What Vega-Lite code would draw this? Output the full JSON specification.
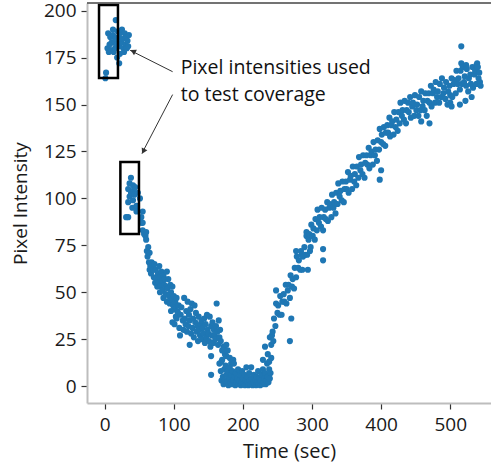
{
  "$schema": "https://vega.github.io/schema/vega-lite/v6.json",
  "width": 404,
  "height": 400,
  "autosize": "none",
  "padding": {"left": 87, "top": 3, "right": 0, "bottom": 62},
  "config": {
    "view": {"stroke": null},
    "font": "Open Sans",
    "axis": {
      "domainColor": "#bdbdbd",
      "domainWidth": 2,
      "tickColor": "#333333",
      "tickWidth": 1.2,
      "tickSize": 6,
      "labelFont": "Open Sans",
      "labelFontSize": 19,
      "labelColor": "#1a1a1a",
      "titleFont": "Open Sans",
      "titleFontWeight": "normal",
      "titleColor": "#1a1a1a",
      "grid": false
    }
  },
  "datasets": {
    "pts": [
      {"t":1,"v":164},{"t":2,"v":167},{"t":4,"v":180},{"t":5,"v":188},{"t":6,"v":178},{"t":7,"v":182},{"t":8,"v":186},{"t":9,"v":179},{"t":10,"v":183},{"t":12,"v":190},{"t":12,"v":187},{"t":13,"v":178},{"t":14,"v":183},{"t":15,"v":185},{"t":15,"v":180},{"t":16,"v":195},{"t":17,"v":182},{"t":18,"v":175},{"t":19,"v":189},{"t":20,"v":186},{"t":21,"v":181},{"t":21,"v":172},{"t":22,"v":188},{"t":22,"v":177},{"t":24,"v":183},{"t":25,"v":190},{"t":26,"v":185},{"t":27,"v":180},{"t":28,"v":178},{"t":29,"v":188},{"t":30,"v":182},{"t":31,"v":186},{"t":32,"v":180},{"t":33,"v":184},{"t":34,"v":181},{"t":35,"v":187},
      {"t":31,"v":90},{"t":34,"v":105},{"t":34,"v":98},{"t":34,"v":90},{"t":36,"v":108},{"t":36,"v":101},{"t":38,"v":111},{"t":38,"v":103},{"t":40,"v":95},{"t":41,"v":107},{"t":41,"v":104},{"t":41,"v":99},{"t":43,"v":102},{"t":44,"v":106},{"t":46,"v":96},{"t":46,"v":93},{"t":48,"v":103},{"t":51,"v":100},{"t":53,"v":90},{"t":53,"v":87},{"t":55,"v":93},{"t":55,"v":87},{"t":55,"v":83},{"t":57,"v":81},{"t":59,"v":80},{"t":60,"v":82},
      {"t":60,"v":78},{"t":61,"v":72},{"t":62,"v":69},{"t":63,"v":74},{"t":64,"v":66},{"t":65,"v":71},{"t":65,"v":62},{"t":66,"v":64},{"t":67,"v":60},{"t":68,"v":66},{"t":70,"v":62},{"t":71,"v":58},{"t":72,"v":65},{"t":73,"v":55},{"t":74,"v":62},{"t":75,"v":57},{"t":76,"v":53},{"t":77,"v":60},{"t":78,"v":55},{"t":79,"v":64},{"t":80,"v":58},{"t":80,"v":50},{"t":81,"v":53},{"t":82,"v":61},{"t":83,"v":56},{"t":84,"v":51},{"t":85,"v":59},{"t":85,"v":47},{"t":86,"v":54},{"t":87,"v":57},{"t":88,"v":49},{"t":89,"v":53},{"t":90,"v":61},{"t":90,"v":45},{"t":91,"v":52},{"t":92,"v":57},{"t":93,"v":48},{"t":94,"v":44},{"t":95,"v":54},{"t":96,"v":50},{"t":97,"v":46},{"t":98,"v":53},{"t":99,"v":43},{"t":100,"v":48},{"t":101,"v":41},{"t":102,"v":45},{"t":103,"v":37},{"t":104,"v":47},{"t":105,"v":40},
      {"t":96,"v":40},{"t":98,"v":34},{"t":101,"v":33},{"t":104,"v":36},{"t":106,"v":39},{"t":107,"v":43},{"t":108,"v":31},{"t":109,"v":27},{"t":110,"v":38},{"t":111,"v":42},{"t":113,"v":35},{"t":114,"v":30},{"t":115,"v":47},{"t":116,"v":36},{"t":117,"v":33},{"t":118,"v":40},{"t":119,"v":29},{"t":120,"v":45},{"t":121,"v":32},{"t":122,"v":38},{"t":123,"v":22},{"t":123,"v":35},{"t":124,"v":41},{"t":125,"v":28},{"t":126,"v":44},{"t":127,"v":31},{"t":128,"v":36},{"t":129,"v":26},{"t":130,"v":43},{"t":131,"v":34},{"t":132,"v":39},{"t":133,"v":29},{"t":134,"v":32},{"t":135,"v":24},{"t":136,"v":37},{"t":137,"v":30},{"t":138,"v":27},{"t":139,"v":33},{"t":140,"v":35},{"t":141,"v":25},{"t":142,"v":31},{"t":143,"v":28},{"t":144,"v":36},{"t":145,"v":23},{"t":146,"v":33},{"t":147,"v":26},{"t":148,"v":38},{"t":149,"v":30},{"t":150,"v":28},{"t":151,"v":24},{"t":152,"v":37},{"t":153,"v":21},{"t":154,"v":32},{"t":154,"v":16},{"t":154,"v":6},{"t":155,"v":27},{"t":156,"v":34},{"t":157,"v":23},{"t":158,"v":30},{"t":159,"v":27},{"t":160,"v":25},{"t":161,"v":32},{"t":162,"v":44},{"t":163,"v":29},{"t":164,"v":22},{"t":165,"v":35},{"t":166,"v":26},{"t":167,"v":30},{"t":168,"v":24},{"t":169,"v":13},{"t":170,"v":19},{"t":172,"v":21},{"t":174,"v":17},{"t":176,"v":22},{"t":176,"v":16},{"t":178,"v":19},{"t":181,"v":15},{"t":183,"v":12},{"t":186,"v":14},
      {"t":166,"v":12},{"t":168,"v":8},{"t":169,"v":3},{"t":170,"v":14},{"t":171,"v":5},{"t":172,"v":1},{"t":173,"v":9},{"t":174,"v":3},{"t":175,"v":11},{"t":176,"v":6},{"t":177,"v":2},{"t":178,"v":8},{"t":179,"v":0.5},{"t":180,"v":4},{"t":181,"v":10},{"t":182,"v":2},{"t":183,"v":6},{"t":184,"v":1},{"t":185,"v":8},{"t":186,"v":3},{"t":187,"v":12},{"t":188,"v":5},{"t":189,"v":0.5},{"t":190,"v":7},{"t":191,"v":2},{"t":192,"v":4},{"t":193,"v":9},{"t":194,"v":1},{"t":195,"v":3},{"t":196,"v":6},{"t":197,"v":0.5},{"t":198,"v":2},{"t":199,"v":8},{"t":200,"v":4},{"t":201,"v":1},{"t":202,"v":6},{"t":203,"v":0.5},{"t":204,"v":3},{"t":205,"v":10},{"t":206,"v":2},{"t":207,"v":5},{"t":208,"v":0.5},{"t":209,"v":7},{"t":210,"v":3},{"t":211,"v":1},{"t":212,"v":10},{"t":213,"v":4},{"t":214,"v":0.5},{"t":215,"v":2},{"t":216,"v":6},{"t":217,"v":1},{"t":218,"v":3},{"t":219,"v":0.5},{"t":220,"v":5},{"t":221,"v":2},{"t":222,"v":8},{"t":223,"v":1},{"t":224,"v":4},{"t":225,"v":0.5},{"t":226,"v":3},{"t":227,"v":6},{"t":228,"v":1},{"t":229,"v":9},{"t":229,"v":14},{"t":230,"v":2},{"t":231,"v":4},{"t":232,"v":7},{"t":232,"v":21},{"t":233,"v":1},{"t":234,"v":3},{"t":235,"v":12},{"t":236,"v":5},{"t":237,"v":2},{"t":238,"v":9},{"t":239,"v":4},{"t":240,"v":7},{"t":241,"v":15},
      {"t":236,"v":17},{"t":238,"v":13},{"t":239,"v":26},{"t":241,"v":22},{"t":242,"v":27},{"t":243,"v":29},{"t":244,"v":24},{"t":245,"v":36},{"t":247,"v":32},{"t":248,"v":44},{"t":248,"v":51},{"t":250,"v":39},{"t":251,"v":43},{"t":253,"v":38},{"t":254,"v":48},{"t":256,"v":38},{"t":257,"v":45},{"t":259,"v":49},{"t":260,"v":45},{"t":262,"v":54},{"t":263,"v":44},{"t":265,"v":51},{"t":266,"v":54},{"t":268,"v":47},{"t":268,"v":24},{"t":269,"v":59},{"t":270,"v":36},{"t":271,"v":53},{"t":272,"v":57},{"t":274,"v":52},{"t":275,"v":63},{"t":277,"v":58},{"t":277,"v":72},{"t":278,"v":69},{"t":280,"v":63},{"t":281,"v":67},{"t":283,"v":62},{"t":284,"v":72},{"t":285,"v":70},{"t":286,"v":62},{"t":287,"v":69},{"t":289,"v":74},{"t":290,"v":70},{"t":292,"v":80},{"t":292,"v":82},{"t":293,"v":70},{"t":294,"v":62},{"t":295,"v":78},{"t":296,"v":81},{"t":297,"v":72},{"t":298,"v":74},{"t":299,"v":86},{"t":301,"v":80},{"t":302,"v":84},{"t":304,"v":78},{"t":305,"v":89},{"t":307,"v":83},{"t":308,"v":94},{"t":310,"v":87},{"t":311,"v":90},{"t":313,"v":85},{"t":314,"v":95},{"t":316,"v":83},{"t":316,"v":67},{"t":316,"v":73},{"t":317,"v":90},{"t":319,"v":94},{"t":320,"v":89},{"t":322,"v":98},{"t":323,"v":88},{"t":325,"v":95},{"t":326,"v":97},{"t":328,"v":90},{"t":329,"v":102},{"t":331,"v":95},{"t":332,"v":98},{"t":334,"v":92},{"t":335,"v":103},{"t":337,"v":97},{"t":338,"v":108},{"t":340,"v":101},{"t":341,"v":104},{"t":343,"v":99},{"t":344,"v":109},{"t":346,"v":98},{"t":347,"v":105},{"t":349,"v":109},{"t":350,"v":105},{"t":352,"v":114},{"t":353,"v":103},{"t":355,"v":110},{"t":356,"v":112},{"t":358,"v":105},{"t":359,"v":117},{"t":361,"v":109},{"t":362,"v":113},{"t":364,"v":107},{"t":365,"v":117},{"t":367,"v":111},{"t":368,"v":122},{"t":370,"v":115},{"t":371,"v":118},{"t":373,"v":113},{"t":374,"v":123},{"t":376,"v":111},{"t":377,"v":119},{"t":379,"v":123},{"t":380,"v":118},{"t":382,"v":127},{"t":383,"v":116},{"t":385,"v":123},{"t":386,"v":125},{"t":388,"v":118},{"t":389,"v":130},{"t":391,"v":123},{"t":392,"v":126},{"t":394,"v":120},{"t":395,"v":131},{"t":397,"v":126},{"t":398,"v":137},{"t":398,"v":110},{"t":400,"v":130},{"t":400,"v":115},{"t":401,"v":134},{"t":403,"v":129},{"t":404,"v":138},{"t":406,"v":128},{"t":407,"v":135},{"t":409,"v":139},{"t":410,"v":135},{"t":412,"v":143},{"t":413,"v":133},{"t":415,"v":139},{"t":416,"v":141},{"t":418,"v":134},{"t":419,"v":146},{"t":421,"v":138},{"t":422,"v":142},{"t":424,"v":136},{"t":425,"v":146},{"t":427,"v":140},{"t":428,"v":151},{"t":430,"v":144},{"t":431,"v":147},{"t":433,"v":142},{"t":434,"v":152},{"t":436,"v":140},{"t":437,"v":147},{"t":439,"v":151},{"t":440,"v":146},{"t":442,"v":154},{"t":443,"v":143},{"t":445,"v":149},{"t":446,"v":151},{"t":448,"v":144},{"t":449,"v":155},{"t":451,"v":147},{"t":452,"v":150},{"t":454,"v":144},{"t":455,"v":154},{"t":457,"v":147},{"t":458,"v":157},{"t":458,"v":141},{"t":460,"v":149},{"t":461,"v":152},{"t":463,"v":147},{"t":464,"v":156},{"t":466,"v":144},{"t":467,"v":152},{"t":469,"v":156},{"t":470,"v":151},{"t":470,"v":140},{"t":472,"v":160},{"t":473,"v":149},{"t":475,"v":156},{"t":476,"v":158},{"t":478,"v":151},{"t":479,"v":162},{"t":481,"v":154},{"t":482,"v":157},{"t":484,"v":151},{"t":485,"v":161},{"t":487,"v":154},{"t":488,"v":164},{"t":490,"v":156},{"t":491,"v":159},{"t":493,"v":153},{"t":494,"v":162},{"t":496,"v":150},{"t":497,"v":157},{"t":499,"v":160},{"t":500,"v":155},{"t":500,"v":151},{"t":502,"v":164},{"t":502,"v":149},{"t":503,"v":154},{"t":505,"v":161},{"t":506,"v":163},{"t":508,"v":156},{"t":509,"v":168},{"t":511,"v":161},{"t":512,"v":164},{"t":514,"v":158},{"t":514,"v":150},{"t":515,"v":168},{"t":516,"v":172},{"t":516,"v":181},{"t":517,"v":161},{"t":518,"v":170},{"t":520,"v":162},{"t":521,"v":165},{"t":522,"v":152},{"t":523,"v":160},{"t":523,"v":171},{"t":524,"v":169},{"t":526,"v":157},{"t":527,"v":164},{"t":529,"v":166},{"t":530,"v":161},{"t":531,"v":154},{"t":532,"v":170},{"t":533,"v":159},{"t":535,"v":166},{"t":536,"v":168},{"t":538,"v":161},{"t":538,"v":171},{"t":539,"v":172},{"t":540,"v":170},{"t":541,"v":164},{"t":542,"v":167},{"t":543,"v":162},{"t":544,"v":160}
    ],
    "boxes": [
      {"t0": -8.2, "t1": 19.2, "v0": 164.2, "v1": 203.0},
      {"t0": 22.7, "t1": 49.6, "v0": 81.1, "v1": 119.4}
    ],
    "arrows": [
      {"t0": 98.3, "v0": 167.5, "t1": 36.8, "v1": 178.9, "th": 41.0, "vh": 178.4, "ang": 297},
      {"t0": 98.3, "v0": 155.3, "t1": 53.8, "v1": 123.9, "th": 55.9, "vh": 125.1, "ang": 207}
    ],
    "notes": [
      {"t": 110, "v": 166.3, "label": "Pixel intensities used"},
      {"t": 110, "v": 151.7, "label": "to test coverage"}
    ]
  },
  "layer": [
    {
      "data": {"name": "pts"},
      "mark": {"type": "circle", "size": 38, "opacity": 1, "color": "#1f77b4"},
      "encoding": {
        "x": {"field": "t", "type": "quantitative",
              "scale": {"domain": [-25.6, 559], "nice": false, "zero": false},
              "axis": {"values": [0, 100, 200, 300, 400, 500], "title": "Time (sec)", "titleFontSize": 20, "labelPadding": 6, "titlePadding": 7}},
        "y": {"field": "v", "type": "quantitative",
              "scale": {"domain": [-9, 204.1], "nice": false, "zero": false},
              "axis": {"values": [0, 25, 50, 75, 100, 125, 150, 175, 200], "title": "Pixel Intensity", "titleFontSize": 19, "labelPadding": 5, "titlePadding": 13}}
      }
    },
    {
      "data": {"name": "boxes"},
      "mark": {"type": "rect", "filled": false, "stroke": "#000000", "strokeWidth": 2.5},
      "encoding": {
        "x": {"field": "t0", "type": "quantitative", "scale": {"domain": [-25.6, 559], "nice": false, "zero": false},
              "axis": {"values": [0, 100, 200, 300, 400, 500], "title": "Time (sec)", "titleFontSize": 20, "labelPadding": 6, "titlePadding": 7}},
        "x2": {"field": "t1"},
        "y": {"field": "v0", "type": "quantitative", "scale": {"domain": [-9, 204.1], "nice": false, "zero": false},
              "axis": {"values": [0, 25, 50, 75, 100, 125, 150, 175, 200], "title": "Pixel Intensity", "titleFontSize": 19, "labelPadding": 5, "titlePadding": 13}},
        "y2": {"field": "v1"}
      }
    },
    {
      "data": {"name": "arrows"},
      "mark": {"type": "rule", "color": "#333333", "strokeWidth": 1},
      "encoding": {
        "x": {"field": "t0", "type": "quantitative", "scale": {"domain": [-25.6, 559], "nice": false, "zero": false},
              "axis": {"values": [0, 100, 200, 300, 400, 500], "title": "Time (sec)", "titleFontSize": 20, "labelPadding": 6, "titlePadding": 7}},
        "x2": {"field": "t1"},
        "y": {"field": "v0", "type": "quantitative", "scale": {"domain": [-9, 204.1], "nice": false, "zero": false},
              "axis": {"values": [0, 25, 50, 75, 100, 125, 150, 175, 200], "title": "Pixel Intensity", "titleFontSize": 19, "labelPadding": 5, "titlePadding": 13}},
        "y2": {"field": "v1"}
      }
    },
    {
      "data": {"name": "arrows"},
      "mark": {"type": "point", "shape": "triangle-up", "filled": true, "color": "#333333", "opacity": 1, "size": 40},
      "encoding": {
        "x": {"field": "th", "type": "quantitative", "scale": {"domain": [-25.6, 559], "nice": false, "zero": false},
              "axis": {"values": [0, 100, 200, 300, 400, 500], "title": "Time (sec)", "titleFontSize": 20, "labelPadding": 6, "titlePadding": 7}},
        "y": {"field": "vh", "type": "quantitative", "scale": {"domain": [-9, 204.1], "nice": false, "zero": false},
              "axis": {"values": [0, 25, 50, 75, 100, 125, 150, 175, 200], "title": "Pixel Intensity", "titleFontSize": 19, "labelPadding": 5, "titlePadding": 13}},
        "angle": {"field": "ang", "type": "quantitative", "scale": null}
      }
    },
    {
      "data": {"name": "notes"},
      "mark": {"type": "text", "align": "left", "baseline": "alphabetic", "font": "Open Sans", "fontSize": 19.5, "color": "#111111"},
      "encoding": {
        "x": {"field": "t", "type": "quantitative", "scale": {"domain": [-25.6, 559], "nice": false, "zero": false},
              "axis": {"values": [0, 100, 200, 300, 400, 500], "title": "Time (sec)", "titleFontSize": 20, "labelPadding": 6, "titlePadding": 7}},
        "y": {"field": "v", "type": "quantitative", "scale": {"domain": [-9, 204.1], "nice": false, "zero": false},
              "axis": {"values": [0, 25, 50, 75, 100, 125, 150, 175, 200], "title": "Pixel Intensity", "titleFontSize": 19, "labelPadding": 5, "titlePadding": 13}},
        "text": {"field": "label"}
      }
    },
    {
      "data": {"values": [{}]},
      "mark": {"type": "rule", "color": "#444444", "strokeWidth": 1.5},
      "encoding": {
        "y": {"datum": 204.1, "type": "quantitative", "scale": {"domain": [-9, 204.1], "nice": false, "zero": false},
              "axis": {"values": [0, 25, 50, 75, 100, 125, 150, 175, 200], "title": "Pixel Intensity", "titleFontSize": 19, "labelPadding": 5, "titlePadding": 13}}
      }
    }
  ]
}
